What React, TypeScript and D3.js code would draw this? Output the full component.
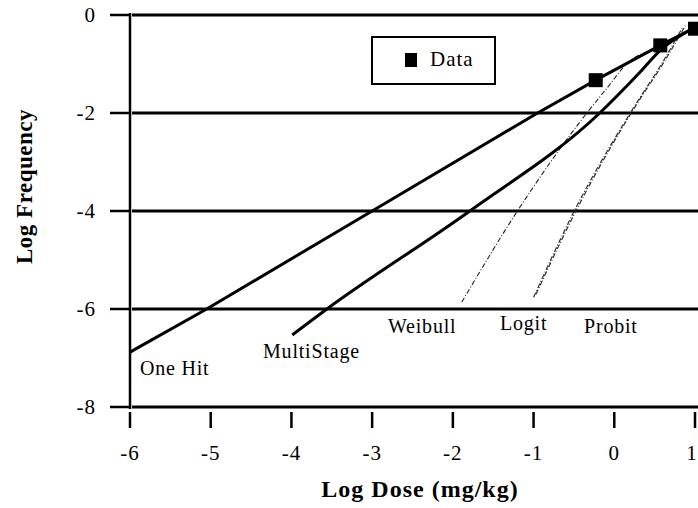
import React from 'react';
import * as d3 from 'd3';

// axis ticks
const xTicks = [-6, -5, -4, -3, -2, -1, 0, 1];
const yTicks = [0, -2, -4, -6, -8];

// observed data
const dataX = [-0.23, 0.57, 1.0];
const dataY = [-1.33, -0.62, -0.28];

// fitted model curves
const oneHitX = [-6, -5.05, -3, -0.95, -0.23, 0.57, 0.98];
const oneHitY = [-6.88, -6, -4, -2, -1.33, -0.62, -0.27];
const multiX = [-3.99, -3.56, -1.79, -0.18, 0.3, 0.57, 0.98];
const multiY = [-6.53, -6, -4, -2, -1.2, -0.72, -0.27];
const weibullX = [-1.89, -1.2, -0.34, -0.08, 0.15, 0.57, 0.98];
const weibullY = [-5.86, -4, -2, -1.47, -1.0, -0.64, -0.27];
const logitX = [-1.0, -0.49, 0.22, 0.6, 0.85];
const logitY = [-5.76, -3.98, -1.94, -0.96, -0.24];
const probitX = [-0.97, -0.46, 0.24, 0.62, 0.88];
const probitY = [-5.7, -3.95, -1.92, -0.95, -0.22];

const W = 698;
const H = 508;
const FONT = '"Liberation Serif", "Times New Roman", serif';

const x = d3.scaleLinear().domain([-6, 1]).range([130, 695]);
const y = d3.scaleLinear().domain([-8, 0]).range([407, 15]);

const straight = d3
  .line<[number, number]>()
  .x(d => x(d[0]))
  .y(d => y(d[1]));

const smooth = d3
  .line<[number, number]>()
  .x(d => x(d[0]))
  .y(d => y(d[1]))
  .curve(d3.curveMonotoneX);

const zip = (xs: number[], ys: number[]) => xs.map((v, i) => [v, ys[i]] as [number, number]);

export default function App() {
  const dashed = [zip(weibullX, weibullY), zip(logitX, logitY), zip(probitX, probitY)];

  const curveLabels = [
    { text: 'One Hit', px: 140, py: 375 },
    { text: 'MultiStage', px: 263, py: 358 },
    { text: 'Weibull', px: 388, py: 333 },
    { text: 'Logit', px: 500, py: 330 },
    { text: 'Probit', px: 584, py: 333 },
  ];

  return (
    <div style={{ position: 'absolute', left: 0, top: 0 }}>
      <svg width={W} height={H} style={{ display: 'block', background: '#fff' }} fontFamily={FONT}>
        {/* horizontal grid lines */}
        {yTicks.map(t => (
          <g key={t}>
            <line x1={x(-6) + 2} x2={W} y1={y(t)} y2={y(t)} stroke="#000" strokeWidth={3} />
            <line x1={110} x2={x(-6)} y1={y(t)} y2={y(t)} stroke="#000" strokeWidth={2.5} />
            <text x={96} y={y(t)} dy="0.35em" textAnchor="end" fontSize={21} letterSpacing={1}>
              {t}
            </text>
          </g>
        ))}

        {/* y axis */}
        <line x1={x(-6)} x2={x(-6)} y1={y(0) - 2} y2={y(-8) + 2} stroke="#000" strokeWidth={2.5} />

        {/* x ticks */}
        {xTicks.map(t => (
          <g key={t}>
            <line x1={x(t)} x2={x(t)} y1={412} y2={428} stroke="#000" strokeWidth={2.5} />
            <text x={Math.min(x(t), 692)} y={460} textAnchor="middle" fontSize={21} letterSpacing={1}>
              {t}
            </text>
          </g>
        ))}

        {/* dashed model curves */}
        {dashed.map((pts, i) => (
          <path key={i} d={smooth(pts) || ''} fill="none" stroke="#222" strokeWidth={1.1} strokeDasharray="5,2,1,2" />
        ))}

        {/* solid model curves */}
        <path d={straight(zip(oneHitX, oneHitY)) || ''} fill="none" stroke="#000" strokeWidth={3} />
        <path d={smooth(zip(multiX, multiY)) || ''} fill="none" stroke="#000" strokeWidth={3} />

        {/* data squares */}
        {dataX.map((v, i) => (
          <rect key={i} x={x(v) - 7} y={y(dataY[i]) - 7} width={14} height={14} fill="#000" />
        ))}

        {/* curve labels */}
        {curveLabels.map(l => (
          <text key={l.text} x={l.px} y={l.py} fontSize={20} letterSpacing={0.8}>
            {l.text}
          </text>
        ))}

        {/* legend */}
        <rect x={372} y={37} width={123} height={47} fill="#fff" stroke="#000" strokeWidth={2} />
        <rect x={405} y={53} width={12} height={14} fill="#000" />
        <text x={430} y={66} fontSize={21} letterSpacing={1}>
          Data
        </text>

        {/* axis titles */}
        <text x={420} y={497} textAnchor="middle" fontSize={24} fontWeight="bold" letterSpacing={1}>
          Log Dose (mg/kg)
        </text>
        <text
          transform={`translate(32,${y(-3.5)}) rotate(-90)`}
          textAnchor="middle"
          fontSize={23}
          fontWeight="bold"
          letterSpacing={0.5}
        >
          Log Frequency
        </text>
      </svg>
    </div>
  );
}
